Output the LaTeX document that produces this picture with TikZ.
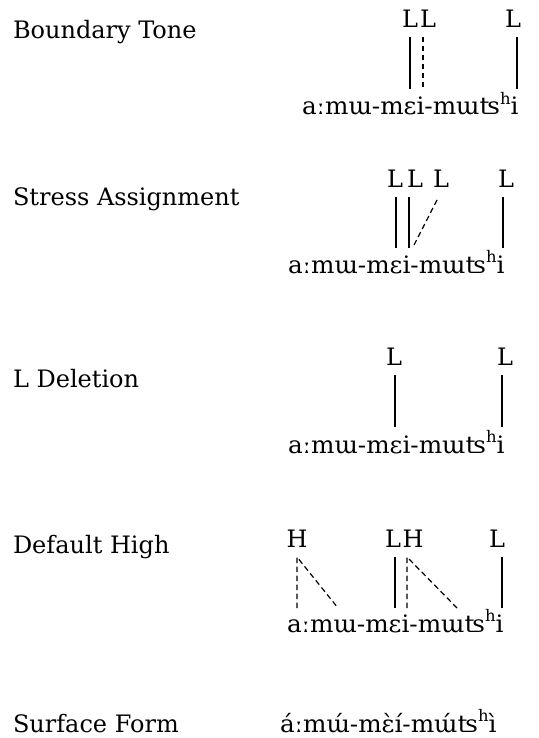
\documentclass[tikz,border=0pt]{standalone}
\usepackage{fontspec}
\usepackage{graphicx}
\setmainfont{DejaVu Serif}
\newcommand{\asp}{\raisebox{0.42em}{\fontsize{16}{16}\selectfont h}}
\newcommand{\segtext}[1]{\scalebox{1.03}[1]{#1}}
\begin{document}
\begin{tikzpicture}[x=1pt,y=-1pt,
  every node/.style={inner sep=0pt,outer sep=0pt,font=\fontsize{24}{28}\selectfont},
  lab/.style={anchor=base west},
  seg/.style={anchor=base west},
  tone/.style={anchor=base},
  assoc/.style={line width=1.2pt},
  newassoc/.style={line width=1.2pt,dash pattern=on 5.5pt off 3.5pt}]
\useasboundingbox (0,0) rectangle (538,738);

% Row 1: Boundary Tone
\node[lab] (lab1) at (13,39) {Boundary Tone};
\node[tone] (r1t1) at (410,28) {L};
\node[tone] (r1t2) at (428,28) {L};
\node[tone] (r1t3) at (513,28) {L};
\node[seg] (r1s) at (302,115) {\segtext{aːmɯ-mɛi-mɯʦ\asp i}};
\coordinate (r1a1) at (410,37); \coordinate (r1b1) at (410,89);
\coordinate (r1a2) at (423,37); \coordinate (r1b2) at (423,89);
\coordinate (r1a3) at (517,37); \coordinate (r1b3) at (517,89);
\draw[assoc] (r1a1) -- (r1b1);
\draw[newassoc] (r1a2) -- (r1b2);
\draw[assoc] (r1a3) -- (r1b3);

% Row 2: Stress Assignment
\node[lab] (lab2) at (13,205) {Stress Assignment};
\node[tone] (r2t1) at (395,187) {L};
\node[tone] (r2t2) at (415,187) {L};
\node[tone] (r2t3) at (441,187) {L};
\node[tone] (r2t4) at (506,187) {L};
\node[seg] (r2s) at (288,273) {\segtext{aːmɯ-mɛi-mɯʦ\asp i}};
\coordinate (r2a1) at (396,197); \coordinate (r2b1) at (396,248);
\coordinate (r2a2) at (409,197); \coordinate (r2b2) at (409,248);
\coordinate (r2a3) at (437,200); \coordinate (r2b3) at (413,247);
\coordinate (r2a4) at (503,197); \coordinate (r2b4) at (503,248);
\draw[assoc] (r2a1) -- (r2b1);
\draw[assoc] (r2a2) -- (r2b2);
\draw[newassoc] (r2a3) -- (r2b3);
\draw[assoc] (r2a4) -- (r2b4);

% Row 3: L Deletion
\node[lab] (lab3) at (13,387) {L Deletion};
\node[tone] (r3t1) at (394,365) {L};
\node[tone] (r3t2) at (505,365) {L};
\node[seg] (r3s) at (288,453) {\segtext{aːmɯ-mɛi-mɯʦ\asp i}};
\coordinate (r3a1) at (395,375); \coordinate (r3b1) at (395,427);
\coordinate (r3a2) at (502,375); \coordinate (r3b2) at (502,427);
\draw[assoc] (r3a1) -- (r3b1);
\draw[assoc] (r3a2) -- (r3b2);

% Row 4: Default High
\node[lab] (lab4) at (13,553) {Default High};
\node[tone] (r4t1) at (297,547) {H};
\node[tone] (r4t2) at (393,547) {L};
\node[tone] (r4t3) at (413,547) {H};
\node[tone] (r4t4) at (497,547) {L};
\node[seg] (r4s) at (287,632) {\segtext{aːmɯ-mɛi-mɯʦ\asp i}};
\coordinate (r4a1) at (297,557); \coordinate (r4b1) at (297,608);
\coordinate (r4b2) at (338,608);
\coordinate (r4a3) at (395,557); \coordinate (r4b3) at (395,608);
\coordinate (r4a4) at (407,557); \coordinate (r4b4) at (407,608);
\coordinate (r4b5) at (457,608);
\coordinate (r4a6) at (502,557); \coordinate (r4b6) at (502,608);
\draw[newassoc] (r4b1) -- (r4a1) -- (r4b2);
\draw[assoc] (r4a3) -- (r4b3);
\draw[newassoc] (r4b4) -- (r4a4) -- (r4b5);
\draw[assoc] (r4a6) -- (r4b6);

% Row 5: Surface Form
\node[lab] (lab5) at (13,732) {Surface Form};
\node[seg] (r5s) at (280,732) {\segtext{áːmɯ́-mɛ̀í-mɯ́ʦ\asp ì}};
\end{tikzpicture}
\end{document}
